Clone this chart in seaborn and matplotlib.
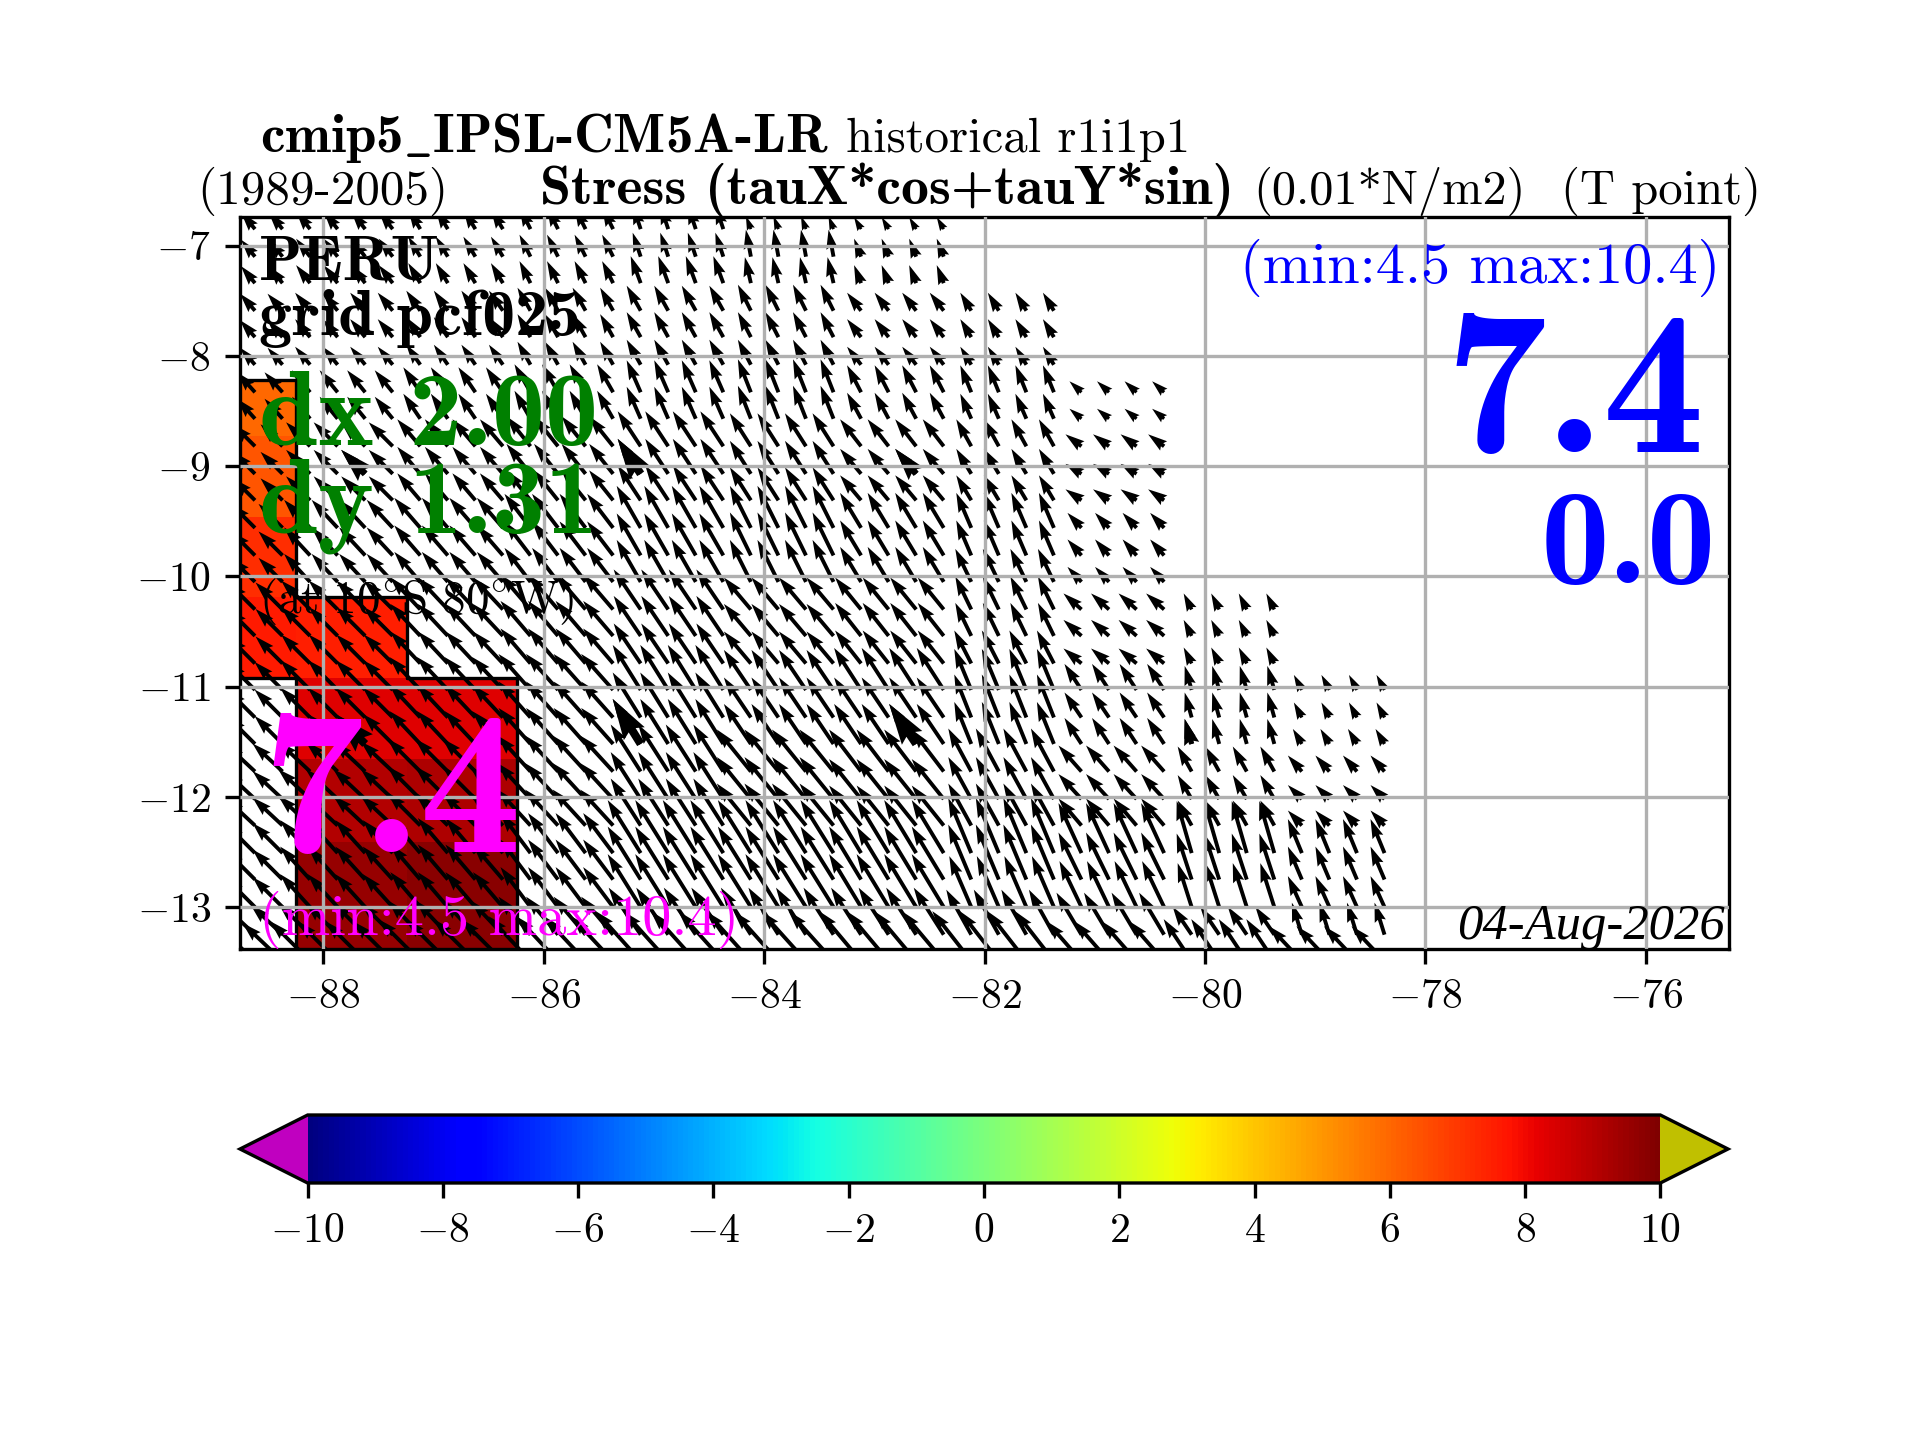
#!/usr/bin/env python3
"""Wind stress over the Peru box: quiver field, box cells and colorbar."""

import matplotlib as mpl
mpl.use("Agg")
import matplotlib.pyplot as plt
import numpy as np
import seaborn as sns

nan = float("nan")

X_TICKS = [-88, -86, -84, -82, -80, -78, -76]
Y_TICKS = [-7, -8, -9, -10, -11, -12, -13]
CBAR_TICKS = [-10, -8, -6, -4, -2, 0, 2, 4, 6, 8, 10]

# arrow tails, columns grouped by the coarse model cell they fall in
BLOCK_LONS = [
    [-88.62, -88.37],
    [-88.12, -87.87, -87.62, -87.37],
    [-87.12, -86.87, -86.62, -86.37],
    [-86.12, -85.87, -85.62, -85.37],
    [-85.12, -84.87, -84.62, -84.37],
    [-84.12, -83.87, -83.62, -83.37],
    [-83.12, -82.87, -82.62, -82.37],
    [-82.12, -81.87, -81.62, -81.37],
    [-81.12, -80.87, -80.62, -80.37],
    [-80.12, -79.87, -79.62, -79.37],
    [-79.12, -78.87, -78.62, -78.37],
]
LATS = [-6.85, -7.10, -7.34, -7.59, -7.83, -8.08, -8.33, -8.57, -8.82, -9.07,
        -9.31, -9.56, -9.81, -10.05, -10.30, -10.54, -10.79, -11.03, -11.28,
        -11.52, -11.77, -12.02, -12.26, -12.51, -12.75, -13.00, -13.25, -13.49]

# one row per latitude, one value per block of columns
TAU_X = [
    [-2.8, -2.8, -2.4, -2.2, -1.6, -1.0, -1.4, nan, nan, nan, nan],
    [-2.8, -2.8, -2.4, -2.2, -1.6, -1.0, -1.4, nan, nan, nan, nan],
    [-2.8, -2.8, -2.4, -2.2, -2.0, -1.2, -1.4, nan, nan, nan, nan],
    [-3.0, -3.0, -2.8, -2.6, -2.8, -2.6, -2.8, -2.2, nan, nan, nan],
    [-3.0, -3.0, -2.8, -2.6, -2.8, -2.6, -2.8, -2.2, nan, nan, nan],
    [-3.0, -3.0, -2.8, -2.6, -2.8, -2.6, -2.8, -2.2, nan, nan, nan],
    [-3.6, -3.6, -3.4, -3.2, -2.8, -2.6, -2.8, -2.2, -2.4, nan, nan],
    [-3.6, -3.6, -3.4, -3.2, -2.8, -2.6, -2.8, -2.2, -2.4, nan, nan],
    [-4.4, -4.8, -4.6, -4.8, -4.6, -4.2, -4.2, -3.0, -3.2, nan, nan],
    [-4.4, -4.8, -4.6, -4.8, -4.6, -4.2, -4.2, -3.0, -3.2, nan, nan],
    [-4.4, -4.8, -4.6, -4.8, -4.6, -4.2, -4.2, -3.0, -3.2, nan, nan],
    [-4.8, -5.2, -5.2, -5.2, -4.8, -4.2, -4.2, -3.0, -2.8, nan, nan],
    [-4.8, -5.2, -5.2, -5.2, -4.8, -4.2, -4.2, -3.0, -2.8, nan, nan],
    [-4.8, -5.2, -5.2, -5.2, -4.8, -4.2, -4.2, -3.2, -2.8, nan, nan],
    [-5.4, -5.8, -6.0, -6.0, -5.4, -5.4, -5.2, -3.2, -3.6, -1.6, nan],
    [-5.4, -5.8, -6.0, -6.0, -5.4, -5.4, -5.2, -3.2, -3.6, -1.6, nan],
    [-5.4, -5.8, -6.0, -6.0, -5.4, -5.4, -5.2, -3.4, -3.6, -1.6, nan],
    [-5.6, -6.0, -6.2, -6.4, -5.6, -5.4, -5.4, -3.4, -3.4, -1.4, -1.6],
    [-5.6, -6.0, -6.2, -6.4, -5.6, -5.4, -5.4, -3.4, -3.4, -1.4, -1.6],
    [-5.6, -6.0, -6.2, -6.4, -5.6, -5.4, -5.4, -3.4, -3.4, -1.4, -1.8],
    [-6.0, -6.4, -6.6, -6.6, -6.0, -6.8, -6.4, -4.6, -4.6, -2.8, -2.8],
    [-6.0, -6.4, -6.6, -6.6, -6.0, -6.8, -6.4, -4.6, -4.6, -2.8, -2.8],
    [-6.0, -6.4, -6.6, -6.6, -6.0, -6.8, -6.4, -4.6, -4.6, -2.8, -2.8],
    [-6.0, -6.0, -6.0, -6.0, -6.6, -6.6, -6.4, -4.6, -4.6, -3.0, -2.8],
    [-6.0, -6.0, -6.0, -6.0, -6.6, -6.6, -6.4, -4.6, -4.6, -3.0, -2.8],
    [-6.0, -6.0, -6.0, -6.0, -6.6, -6.6, -6.4, -4.4, -4.4, -2.8, -2.8],
    [-6.4, -6.4, -6.4, -6.4, -6.4, -6.0, -6.0, -5.0, -5.0, -3.8, -2.0],
    [-8.0, -8.0, -8.4, -8.4, -9.0, -9.0, -8.4, -7.8, -7.0, -5.6, -6.6],
]
TAU_Y = [
    [3.4, 3.6, 4.0, 4.4, 4.8, 2.6, 2.4, nan, nan, nan, nan],
    [3.4, 3.6, 4.0, 4.4, 4.8, 5.4, 3.6, nan, nan, nan, nan],
    [3.4, 3.6, 4.0, 4.4, 5.4, 5.2, 3.6, nan, nan, nan, nan],
    [3.4, 3.6, 4.0, 4.6, 5.0, 5.2, 3.6, 3.6, nan, nan, nan],
    [3.4, 3.6, 4.0, 4.6, 5.0, 5.0, 3.6, 3.6, nan, nan, nan],
    [3.4, 3.6, 4.0, 4.6, 5.0, 5.0, 3.6, 3.6, nan, nan, nan],
    [4.0, 4.4, 5.0, 5.6, 6.4, 6.6, 5.4, 5.4, 2.2, nan, nan],
    [4.0, 4.4, 5.0, 5.6, 6.4, 6.6, 5.2, 5.0, 2.0, nan, nan],
    [4.4, 4.8, 5.4, 6.0, 7.0, 6.6, 5.4, 5.4, 2.4, nan, nan],
    [4.4, 4.8, 5.4, 6.0, 7.0, 6.6, 5.0, 5.0, 2.0, nan, nan],
    [4.4, 4.8, 5.4, 6.0, 7.0, 6.6, 5.0, 5.0, 2.2, nan, nan],
    [4.8, 5.6, 6.0, 6.8, 8.4, 8.4, 7.0, 7.0, 3.0, nan, nan],
    [4.8, 5.6, 6.0, 6.8, 8.4, 8.6, 7.0, 7.0, 3.2, nan, nan],
    [4.8, 5.6, 6.0, 6.8, 8.4, 8.4, 7.0, 6.6, 3.0, nan, nan],
    [5.4, 5.8, 6.4, 7.0, 8.0, 6.4, 6.4, 6.6, 3.2, 3.2, nan],
    [5.4, 5.8, 6.4, 7.0, 8.0, 6.4, 6.6, 6.6, 3.2, 3.2, nan],
    [5.4, 5.8, 6.4, 7.0, 8.0, 6.4, 6.6, 6.6, 3.0, 3.2, nan],
    [5.6, 6.0, 6.6, 7.2, 9.0, 8.0, 8.4, 8.2, 5.2, 4.8, 3.0],
    [5.6, 6.0, 6.6, 7.2, 9.0, 8.0, 8.0, 8.6, 5.0, 5.0, 3.0],
    [5.6, 6.0, 6.6, 7.2, 9.0, 8.0, 8.0, 8.4, 5.2, 5.0, 3.0],
    [5.6, 6.0, 6.6, 7.2, 9.4, 8.4, 8.4, 8.6, 5.2, 5.0, 3.2],
    [5.6, 6.0, 6.6, 7.2, 9.4, 8.4, 8.0, 8.4, 5.0, 4.8, 2.8],
    [5.6, 6.0, 6.6, 7.2, 9.4, 8.4, 8.0, 8.4, 5.4, 5.0, 3.0],
    [6.0, 6.6, 7.0, 8.0, 10.6, 10.6, 10.6, 11.0, 10.0, 10.4, 6.8],
    [6.0, 6.6, 7.0, 8.0, 10.6, 10.6, 10.6, 11.0, 9.4, 9.2, 6.6],
    [6.0, 6.6, 7.0, 8.0, 10.6, 10.6, 10.6, 10.2, 9.2, 8.8, 6.2],
    [6.0, 6.4, 6.8, 7.6, 9.4, 9.4, 9.4, 9.0, 8.4, 5.6, 6.4],
    [7.6, 8.0, 8.4, 9.0, 10.0, 10.0, 10.0, 10.0, 8.0, 8.4, 7.0],
]

# the few heavier arrows: position in the tables above (block, column, latitude row)
HEAVY_BLOCK = [1, 4, 6, 1, 4, 6, 9]
HEAVY_COLUMN = [2, 0, 2, 2, 0, 2, 0]
HEAVY_ROW = [9, 9, 9, 19, 19, 19, 19]

# shaded model cells
CELL_LON_EDGES = [-89.25, -88.25, -87.24, -86.24]
CELL_LAT_EDGES = [-8.22, -8.73, -9.46, -10.19, -10.92, -11.66, -12.41, -13.6]
CELL_VALUES = [
    [6.0, nan, nan],
    [6.4, nan, nan],
    [7.2, nan, nan],
    [7.6, 7.5, nan],
    [nan, 8.3, 8.3],
    [nan, 9.1, 9.2],
    [nan, 9.6, 9.8],
]

W, H = 1920, 1440


def px_text(fig, x, y, text, **kw):
    kw.setdefault("va", "baseline")
    fig.text(x / W, 1 - y / H, text, **kw)


def expand_blocks(table):
    widths = [len(lons) for lons in BLOCK_LONS]
    return np.repeat(np.array(table), widths, axis=1)


def draw_cells(ax, cmap, norm):
    values = np.array(CELL_VALUES)
    ax.pcolormesh(CELL_LON_EDGES, CELL_LAT_EDGES, np.ma.masked_invalid(values),
                  cmap=cmap, norm=norm, zorder=0.5)
    # black line round the shaded area
    nrow, ncol = values.shape
    for i in range(nrow):
        for j in range(ncol):
            if np.isnan(values[i, j]):
                continue
            x0, x1 = CELL_LON_EDGES[j], CELL_LON_EDGES[j + 1]
            y0, y1 = CELL_LAT_EDGES[i], CELL_LAT_EDGES[i + 1]
            if i == 0 or np.isnan(values[i - 1, j]):
                ax.plot([x0, x1], [y0, y0], color="k", lw=0.8, zorder=0.8)
            if i == nrow - 1 or np.isnan(values[i + 1, j]):
                ax.plot([x0, x1], [y1, y1], color="k", lw=0.8, zorder=0.8)
            if j == 0 or np.isnan(values[i, j - 1]):
                ax.plot([x0, x0], [y0, y1], color="k", lw=0.8, zorder=0.8)
            if j == ncol - 1 or np.isnan(values[i, j + 1]):
                ax.plot([x1, x1], [y0, y1], color="k", lw=0.8, zorder=0.8)


def draw_arrows(ax):
    lons = np.concatenate(BLOCK_LONS)
    lon2d, lat2d = np.meshgrid(lons, LATS)
    u = expand_blocks(TAU_X)
    v = expand_blocks(TAU_Y)
    style = dict(angles="uv", scale_units="inches", scale=60.0, pivot="tail", color="k", zorder=1)
    ax.quiver(lon2d, lat2d, u, v, width=0.0026, **style)

    heavy_lon = [BLOCK_LONS[b][c] for b, c in zip(HEAVY_BLOCK, HEAVY_COLUMN)]
    heavy_lat = [LATS[r] for r in HEAVY_ROW]
    heavy_u = [TAU_X[r][b] for r, b in zip(HEAVY_ROW, HEAVY_BLOCK)]
    heavy_v = [TAU_Y[r][b] for r, b in zip(HEAVY_ROW, HEAVY_BLOCK)]
    ax.quiver(heavy_lon, heavy_lat, heavy_u, heavy_v, width=0.0055, **style)


def main():
    sns.set_style(
        "ticks",
        {
            "axes.edgecolor": "black",
            "text.color": "black",
            "xtick.color": "black",
            "ytick.color": "black",
            "xtick.top": False,
            "ytick.right": False,
        },
    )
    plt.rcParams["font.family"] = ["cmr10", "DejaVu Sans"]
    plt.rcParams["mathtext.fontset"] = "cm"
    plt.rcParams["mathtext.default"] = "rm"
    plt.rcParams["font.size"] = 10
    plt.rcParams["axes.linewidth"] = 0.8
    plt.rcParams["axes.formatter.use_mathtext"] = True

    cmap = mpl.colors.ListedColormap(sns.mpl_palette("jet", 256)).with_extremes(under="#c000c0", over="#c0c000")
    norm = mpl.colors.Normalize(-10, 10)

    fig = plt.figure(figsize=(6.4, 4.8), dpi=300)
    ax = fig.add_axes([240 / W, 1 - 949 / H, 1489 / W, 732 / H])
    draw_cells(ax, cmap, norm)
    draw_arrows(ax)

    ax.set_xlim(-88.756, -75.244)
    ax.set_ylim(-13.38, -6.74)
    ax.set_xticks(X_TICKS, [f"${t}$" for t in X_TICKS], fontsize=10)
    ax.set_yticks(Y_TICKS, [f"${t}$" for t in Y_TICKS], fontsize=10)
    ax.tick_params(length=3.5, width=0.8, pad=3.5)
    ax.grid(True, color="#b0b0b0", lw=0.8)
    ax.set_axisbelow(False)

    cax = fig.add_axes([240 / W, 1 - 1183 / H, 1488 / W, 68 / H])
    sm = mpl.cm.ScalarMappable(norm=norm, cmap=cmap)
    cbar = fig.colorbar(sm, cax=cax, orientation="horizontal", extend="both", extendfrac=0.05)
    cbar.set_ticks(CBAR_TICKS, labels=[f"${t}$" for t in CBAR_TICKS])
    cbar.ax.tick_params(length=3.5, width=0.8, labelsize=10)
    cbar.outline.set_linewidth(0.8)

    # titles
    bold = ["cmb10", "cmr10", "DejaVu Sans"]
    px_text(fig, 260, 152, r"cmip5$\_$IPSL-CM5A-LR", fontsize=13.2, family=bold)
    px_text(fig, 846, 152, "historical r1i1p1", fontsize=11.7)
    px_text(fig, 197, 204, "(1989-2005)", fontsize=11.8)
    px_text(fig, 540, 204, "Stress (tauX*cos+tauY*sin)", fontsize=13.4, family=bold)
    px_text(fig, 1253, 204, "(0.01*N/m2)", fontsize=11.6)
    px_text(fig, 1561, 204, "(T point)", fontsize=11.7)

    # annotations inside the map
    px_text(fig, 259, 279, "PERU", fontsize=15.2, family=bold)
    px_text(fig, 259, 335, "grid pcf025", fontsize=15.8, family=bold)
    px_text(fig, 259, 445, "dx 2.00", fontsize=25.5, color="green", family=bold)
    px_text(fig, 259, 533, "dy 1.31", fontsize=25.5, color="green", family=bold)
    px_text(fig, 259, 613, r"$\mathrm{(at\ 10^{\circ}S\ 80^{\circ}W)}$", fontsize=11.3)
    px_text(fig, 261, 852, "7.4", fontsize=49, color="magenta", family=bold)
    px_text(fig, 259, 935, "(min:4.5 max:10.4)", fontsize=14, color="magenta")
    px_text(fig, 1720, 283, "(min:4.5 max:10.4)", fontsize=14, color="blue", ha="right")
    px_text(fig, 1705, 452, "7.4", fontsize=49, color="blue", family=bold, ha="right")
    px_text(fig, 1716, 583, "0.0", fontsize=33, color="blue", family=bold, ha="right")
    px_text(fig, 1725, 939, "04-Aug-2026", fontsize=12.2, ha="right",
            family="Liberation Serif", style="italic")

    fig.savefig("out.png", dpi=300)


if __name__ == "__main__":
    main()
